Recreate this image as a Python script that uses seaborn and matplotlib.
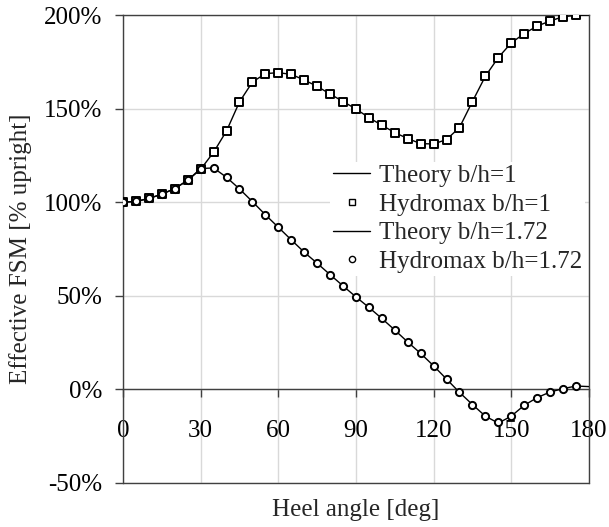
import matplotlib
matplotlib.use('Agg')
import matplotlib.pyplot as plt
import seaborn as sns
from matplotlib.lines import Line2D
from matplotlib.ticker import FuncFormatter

# Hydromax runs: heel angle [deg] and effective FSM [% upright]
heel = [0, 5, 10, 15, 20, 25, 30, 35, 40, 45, 50, 55, 60, 65, 70, 75, 80, 85,
        90, 95, 100, 105, 110, 115, 120, 125, 130, 135, 140, 145, 150, 155, 160, 165, 170, 175]
hydromax_1 = [100.2, 100.4, 102.0, 104.3, 107.3, 111.7, 117.6, 126.7, 138.1, 153.6,
              164.2, 168.7, 169.2, 168.3, 165.3, 161.9, 157.8, 153.8, 149.8, 145.2,
              141.1, 137.2, 134.0, 131.3, 131.1, 133.5, 139.9, 153.8, 167.3, 177.3,
              185.1, 190.1, 194.1, 196.8, 199.1, 199.8]
hydromax_172 = [100.2, 100.4, 102.0, 104.3, 107.3, 111.7, 118.0, 118.3, 113.3, 107.1,
                100.3, 93.3, 86.6, 79.9, 73.3, 67.4, 61.3, 55.3, 49.4, 43.8,
                37.9, 31.7, 25.3, 19.2, 12.6, 5.5, -1.6, -8.1, -14.3, -17.3,
                -14.3, -8.5, -4.4, -1.4, 0.4, 1.8]

# Theory curves
theory_angle = [0, 5, 10, 15, 20, 25, 30, 35, 40, 45, 50, 55, 60, 65, 70, 75, 80, 85, 90,
                95, 100, 105, 110, 115, 120, 125, 130, 135, 140, 145, 150, 155, 160, 165, 170, 175, 180]
theory_1 = [100.0, 100.4, 102.0, 104.3, 107.3, 111.7, 117.6, 126.7, 138.1, 153.6,
            164.2, 168.7, 169.2, 168.3, 165.3, 161.9, 157.8, 153.8, 149.8, 145.2,
            141.1, 137.2, 134.0, 131.3, 131.1, 133.5, 139.9, 153.8, 167.3, 177.3,
            185.1, 190.1, 194.1, 196.8, 199.1, 199.8, 200.0]
theory_172 = [100.0, 100.4, 102.0, 104.3, 107.3, 111.7, 118.0, 118.3, 113.3, 107.1,
              100.3, 93.3, 86.6, 79.9, 73.3, 67.4, 61.3, 55.3, 49.4, 43.8,
              37.9, 31.7, 25.3, 19.2, 12.6, 5.5, -1.6, -8.1, -14.3, -18.0,
              -14.3, -8.5, -4.4, -1.4, 0.4, 1.8, 1.5]

series_names = ["Theory b/h=1", "Hydromax b/h=1", "Theory b/h=1.72", "Hydromax b/h=1.72"]
x_ticks = [0, 30, 60, 90, 120, 150, 180]
y_ticks = [-50, 0, 50, 100, 150, 200]

sns.set_style("ticks")
plt.rcParams['font.family'] = ['Liberation Serif', 'DejaVu Serif']
plt.rcParams['font.size'] = 18

spine_col = '#404040'

fig, ax = plt.subplots(figsize=(6.09, 5.27), dpi=100)
fig.subplots_adjust(left=0.202, right=0.967, bottom=0.0835, top=0.9715)

# theory lines and Hydromax points
sns.lineplot(x=theory_angle, y=theory_1, color='black', lw=1.0, ax=ax, zorder=3)
sns.scatterplot(x=heel, y=hydromax_1, marker='s', s=30, facecolor='white',
                edgecolor='black', linewidth=1.4, ax=ax, zorder=4)
sns.lineplot(x=theory_angle, y=theory_172, color='black', lw=1.0, ax=ax, zorder=4.6)
sns.scatterplot(x=heel, y=hydromax_172, marker='o', s=27, facecolor='white',
                edgecolor='black', linewidth=1.4, ax=ax, zorder=5)

ax.set_xlim(0, 180)
ax.set_ylim(-50, 200)
ax.set_xticks(x_ticks)
ax.set_yticks(y_ticks)
ax.yaxis.set_major_formatter(FuncFormatter(lambda v, p: f"{v:.0f}%"))

ax.grid(True, color='#d9d9d9', lw=1.0)
ax.set_axisbelow(True)

for s in ax.spines.values():
    s.set_visible(True)
    s.set_color(spine_col)
    s.set_linewidth(1.0)
ax.spines['bottom'].set_position(('data', 0))
ax.axhline(-50, color=spine_col, lw=1.0, clip_on=False, zorder=2.5)

ax.tick_params(axis='both', direction='out', length=6, width=1.0, color=spine_col,
               labelsize=18, labelcolor='black')
ax.tick_params(axis='x', pad=16)
ax.tick_params(axis='y', pad=9)

ax.set_xlabel("Heel angle [deg]", fontsize=18)
ax.set_ylabel("Effective FSM [% upright]", fontsize=18)
ax.xaxis.set_label_coords(0.5, -0.035)
ax.yaxis.set_label_coords(-0.195, 0.5)

handles = [
    Line2D([], [], color='black', lw=1.0),
    Line2D([], [], ls='', marker='s', ms=4.5, mfc='white', mec='black', mew=1.0),
    Line2D([], [], color='black', lw=1.0),
    Line2D([], [], ls='', marker='o', ms=4.5, mfc='white', mec='black', mew=1.0),
]
leg = ax.legend(handles, series_names, loc='upper left', bbox_to_anchor=(0.445, 0.686),
                frameon=True, fancybox=False, framealpha=1, edgecolor='none',
                facecolor='white', borderpad=0.1, labelspacing=0.25,
                handlelength=1.5, handletextpad=0.35, borderaxespad=0, fontsize=18)
leg.set_zorder(4.5)

fig.savefig("out.png", dpi=100)
